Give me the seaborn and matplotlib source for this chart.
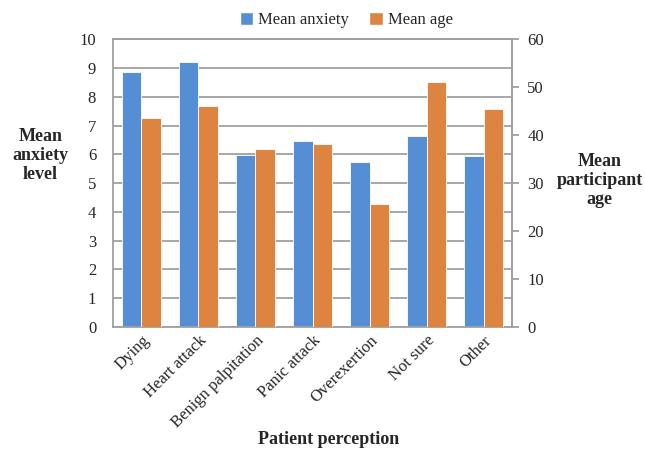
import numpy as np
import pandas as pd
import matplotlib
matplotlib.use('Agg')
import matplotlib.pyplot as plt
from matplotlib.patches import Patch
import seaborn as sns

# Data
categories = ['Dying', 'Heart attack', 'Benign palpitation', 'Panic attack',
              'Overexertion', 'Not sure', 'Other']
mean_anxiety = [8.85, 9.22, 5.97, 6.45, 5.75, 6.65, 5.93]
mean_age = [43.6, 46.0, 37.1, 38.2, 25.6, 51.0, 45.5]
series = ['Mean anxiety', 'Mean age']
colors = ['#558ED5', '#DD8440']

sns.set_style('white')
plt.rcParams['font.family'] = ['Liberation Serif', 'DejaVu Serif']

df_anx = pd.DataFrame({'perception': categories, 'value': mean_anxiety, 'series': series[0]})
df_age = pd.DataFrame({'perception': categories, 'value': mean_age, 'series': series[1]})

fig = plt.figure(figsize=(6.45, 4.51), dpi=100)
ax = fig.add_axes([0.175, 0.275, 0.619, 0.638])
ax2 = ax.twinx()

# each series on its own axis, dodged as if both were on one
sns.barplot(data=df_anx, x='perception', y='value', hue='series', hue_order=series,
            palette=colors, saturation=1, width=0.68, order=categories, ax=ax, dodge=True,
            edgecolor='white', linewidth=0.6, legend=False)
sns.barplot(data=df_age, x='perception', y='value', hue='series', hue_order=series,
            palette=colors, saturation=1, width=0.68, order=categories, ax=ax2, dodge=True,
            edgecolor='white', linewidth=0.6, legend=False)

grid_c = '#A0A0A0'
ax.set_ylim(0, 10)
ax.set_yticks(range(0, 11))
ax2.set_ylim(0, 60)
ax2.set_yticks(range(0, 61, 10))
ax.set_xlim(-0.5, len(categories) - 0.5)

ax.yaxis.grid(True, color=grid_c, linewidth=1.3)
ax.set_axisbelow(True)
for a in (ax, ax2):
    for s in a.spines.values():
        s.set_color(grid_c)
        s.set_linewidth(1.3)
ax2.spines['left'].set_visible(False)
ax2.spines['bottom'].set_visible(False)

ax.tick_params(axis='y', length=0, labelsize=12, pad=12)
ax2.tick_params(axis='y', length=5, color=grid_c, width=1.3, labelsize=12, pad=6)
ax.tick_params(axis='x', length=0, labelsize=12, pad=4)
ax.set_xticks(range(len(categories)))
ax.set_xticklabels(categories, rotation=45, ha='right', rotation_mode='anchor')

ax.set_xlabel('')
ax.set_ylabel('')
ax2.set_ylabel('')
fig.text(0.51, 0.025, 'Patient perception', ha='center', va='center',
         fontsize=13, fontweight='bold')
fig.text(0.063, 0.655, 'Mean\nanxiety\nlevel', ha='center', va='center',
         fontsize=13, fontweight='bold', linespacing=1.15)
fig.text(0.93, 0.6, 'Mean\nparticipant\nage', ha='center', va='center',
         fontsize=13, fontweight='bold', linespacing=1.15)

handles = [Patch(facecolor=c, label=s) for c, s in zip(colors, series)]
fig.legend(handles=handles, loc='center', bbox_to_anchor=(0.537, 0.955), ncol=2,
           frameon=False, fontsize=12, handlelength=0.8, handleheight=0.8,
           handletextpad=0.3, columnspacing=1.2)

fig.savefig('out.png', dpi=100)
